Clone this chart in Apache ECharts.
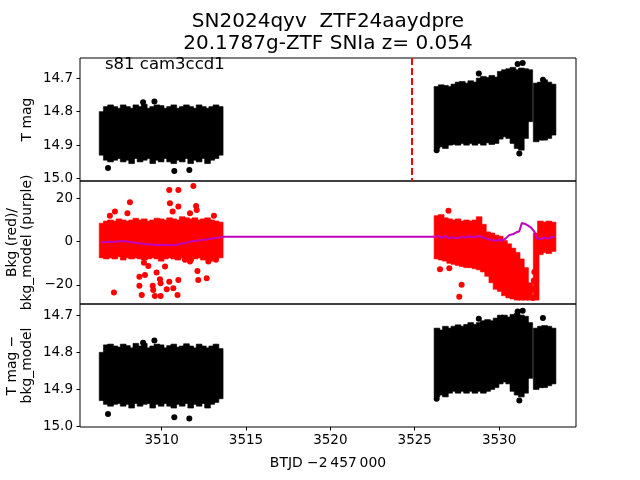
<!DOCTYPE html>
<html>
<head>
<meta charset="utf-8">
<script src="https://cdn.jsdelivr.net/npm/echarts@6/dist/echarts.min.js"></script>
<style>html,body{margin:0;padding:0;background:#fff}#c{width:640px;height:480px}</style>
</head>
<body>
<div id="c"></div>
<script>
// ---- time bins (BTJD - 2457000), centres of 0.25 d bins ----
const tBins = [
 3506.47,3506.72,3506.97,3507.22,3507.47,3507.72,3507.97,3508.22,3508.47,3508.72,
 3508.97,3509.22,3509.47,3509.72,3509.97,3510.22,3510.47,3510.72,3510.97,3511.22,
 3511.47,3511.72,3511.97,3512.22,3512.47,3512.72,3512.97,3513.22,3513.47,
 3526.32,3526.57,3526.82,3527.07,3527.32,3527.57,3527.82,3528.07,3528.32,3528.57,
 3528.82,3529.07,3529.32,3529.57,3529.82,3530.07,3530.32,3530.57,3530.82,3531.07,
 3531.32,3531.57,3531.82,
 3532.20,3532.45,3532.70,3532.95,3533.20
];
// ---- panel 1: T mag envelope (bright edge / faint edge) ----
const mag1Top = [
 14.800,14.785,14.780,14.785,14.790,14.780,14.785,14.790,14.780,14.785,
 14.778,14.790,14.785,14.780,14.782,14.790,14.785,14.780,14.790,14.785,
 14.780,14.785,14.790,14.780,14.785,14.790,14.785,14.780,14.785,
 14.725,14.720,14.722,14.725,14.718,14.712,14.710,14.715,14.708,14.712,
 14.700,14.695,14.698,14.692,14.697,14.680,14.675,14.672,14.668,14.675,
 14.670,14.672,14.675,
 14.715,14.712,14.705,14.712,14.718
];
const mag1Bot = [
 14.930,14.945,14.950,14.945,14.940,14.950,14.945,14.955,14.940,14.950,
 14.945,14.940,14.955,14.945,14.950,14.940,14.950,14.955,14.945,14.950,
 14.940,14.955,14.945,14.950,14.940,14.955,14.945,14.940,14.930,
 14.910,14.905,14.910,14.900,14.898,14.900,14.895,14.900,14.895,14.900,
 14.895,14.900,14.893,14.898,14.895,14.882,14.875,14.880,14.895,14.910,
 14.915,14.880,14.830,
 14.890,14.885,14.885,14.880,14.870
];
const mag1OutT = [3506.82,3510.75,3511.64,3508.90,3509.57,3526.30,3528.80,3531.10,3531.40,3532.60,3531.20];
const mag1OutV = [14.968,14.977,14.974,14.772,14.770,14.915,14.686,14.658,14.655,14.705,14.925];

// ---- panel 2: background (red) envelope and outliers, model (purple) ----
const bkgTop = [
 8.5,9.5,10,9.5,10.5,10,9.5,10,10.8,10,
 10.5,9.5,10,10.8,10.5,10,11,10.5,10,11.5,
 11,10.5,11,10,10.5,11,10,9.5,9,
 12,12.5,11,10.5,10,10.5,9.5,10,9.5,10,
 11.5,8,4.5,4,3,2.5,0.5,-1,-3,-5,
 -8,-12,-19,
 4,9.5,9,9.5,9
];
const bkgBot = [
 -7.5,-8,-7.5,-8,-7,-8.5,-7.5,-8,-7.5,-8,
 -8.5,-8,-7.5,-8,-9,-8,-7.5,-8,-8.5,-7.5,
 -8,-9,-8,-7.5,-8.5,-8,-9,-8,-7.5,
 -8,-8.5,-9,-10,-10.5,-11,-11.5,-12,-12,-12.5,
 -13,-14,-16,-19,-22,-23,-25,-26,-26.5,-27,
 -27,-27,-27,
 -27,-6,-5,-5.5,-4.5
];
const bkgOutT = [
 3510.45,3510.99,3511.88,3508.12,3510.49,3510.99,3512.04,3512.08,3507.23,3507.97,
 3510.65,3511.68,3513.10,3506.93,3508.95,3509.21,3510.20,3511.38,3511.68,3512.77,
 3513.22,3512.12,3509.70,3508.68,3509.01,3509.90,3510.45,3510.99,3512.17,3512.67,
 3508.68,3509.47,3509.94,3510.69,3510.30,3508.82,3509.60,3509.94,3510.94,3507.17,
 3509.50,
 3526.50,3527.05,3527.78,3527.64,3527.00,3532.00,3532.03,3532.06,3532.09
];
const bkgOutV = [
 23.9,23.9,25.7,18.2,17.7,16.2,16.5,14.6,13.9,13.1,
 13.9,13.1,11.9,11.9,-9.7,-11.2,-11.5,-8.4,-9.2,-9.2,
 -8.4,-13.6,-14.3,-16.2,-15.4,-17.4,-18.5,-17.7,-17.7,-16.9,
 -20.4,-20.4,-19.2,-21.5,-22.0,-24.6,-25.1,-25.1,-24.6,-23.5,
 -22.3,
 -12.8,-12.3,-19.9,-25.5,14.3,-26,-22,-18,-14
];
const modelT = [
 3506.40,3506.65,3506.90,3507.15,3507.40,3507.65,3507.90,3508.15,3508.40,3508.65,
 3508.90,3509.15,3509.40,3509.65,3509.90,3510.15,3510.40,3510.65,3510.90,3511.15,
 3511.40,3511.65,3511.90,3512.15,3512.40,3512.65,3512.90,3513.15,3513.40,3513.55,
 3526.20,3526.40,3526.60,3526.80,3527.00,3527.20,3527.40,3527.60,3527.80,3528.00,
 3528.20,3528.40,3528.60,3528.80,3529.00,3529.20,3529.40,3529.60,3529.80,3530.00,
 3530.20,3530.40,3530.60,3530.80,3531.00,3531.20,3531.35,3531.50,3531.70,3531.90,
 3532.10,3532.25,3532.50,3532.70,3532.90,3533.10,3533.30
];
const modelV = [
 -0.3,-0.2,0,-0.2,0.1,0.3,0.1,-0.2,-0.5,-0.7,
 -1.0,-1.2,-1.3,-1.5,-1.4,-1.6,-1.5,-1.7,-1.4,-1.0,
 -0.6,-0.1,0.3,0.5,0.8,1.0,1.3,1.6,1.9,2.2,
 2.2,2.6,1.8,2.5,1.6,2.0,1.5,1.8,2.2,2.0,
 2.4,2.1,2.3,2.6,2.0,1.5,1.0,0.8,0.3,0.9,
 0.5,1.5,3.0,3.4,4.2,4.8,8.6,8.3,7.5,6.5,
 4.5,1.5,1.2,1.8,1.4,2.0,2.4
];

// ---- panel 3: T mag - bkg_model envelope ----
const mag3Top = [
 14.800,14.780,14.778,14.783,14.786,14.778,14.782,14.788,14.776,14.783,
 14.776,14.788,14.783,14.778,14.780,14.788,14.782,14.778,14.786,14.783,
 14.777,14.783,14.788,14.778,14.783,14.788,14.783,14.778,14.790,
 14.735,14.740,14.730,14.735,14.730,14.726,14.730,14.725,14.720,14.725,
 14.720,14.715,14.712,14.715,14.708,14.700,14.700,14.705,14.698,14.695,
 14.700,14.703,14.720,
 14.735,14.730,14.728,14.730,14.735
];
const mag3Bot = [
 14.930,14.940,14.945,14.940,14.938,14.945,14.940,14.950,14.938,14.945,
 14.940,14.938,14.950,14.940,14.945,14.938,14.945,14.950,14.940,14.945,
 14.938,14.950,14.940,14.945,14.938,14.950,14.940,14.935,14.925,
 14.920,14.915,14.920,14.910,14.905,14.910,14.905,14.910,14.905,14.910,
 14.905,14.910,14.905,14.900,14.895,14.885,14.880,14.885,14.905,14.915,
 14.920,14.910,14.870,
 14.900,14.895,14.895,14.890,14.885
];
const mag3OutT = [3506.82,3510.75,3511.64,3508.90,3509.57,3526.30,3528.80,3531.10,3531.40,3532.60,3531.20];
const mag3OutV = [14.966,14.975,14.978,14.774,14.768,14.925,14.710,14.690,14.688,14.708,14.930];

const xTicks = [3510,3515,3520,3525,3530];
const magTicks = [14.7,14.8,14.9,15.0];
const bkgTicks = [-20,0,20];
const tMark = 3524.82;

// ---------------------------------------------------------------
const FONT = 'DejaVu Sans';
const HALF = 0.17;
const L = 80, W = 496, H = 123, TOPS = [58,181,304];

function env(t, top, bot, idx, color) {
  return {
    type: 'custom', xAxisIndex: idx, yAxisIndex: idx, clip: true,
    data: t.map((v,i)=>[v, top[i], bot[i]]),
    encode: {x: 0, y: [1,2]},
    renderItem: function(params, api) {
      const tc = api.value(0);
      const a = api.coord([tc-HALF, api.value(1)]);
      const b = api.coord([tc+HALF, api.value(2)]);
      return {type:'rect', shape:{x:Math.min(a[0],b[0]), y:Math.min(a[1],b[1]),
        width:Math.abs(b[0]-a[0]), height:Math.abs(b[1]-a[1])},
        style:{fill:color, stroke:color, lineWidth:0.6}};
    }
  };
}
function pts(t, v, idx, color, size) {
  return {type:'scatter', xAxisIndex: idx, yAxisIndex: idx, symbolSize: size,
    itemStyle:{color:color, opacity:1}, data: t.map((x,i)=>[x, v[i]]), silent:true};
}
function yAx(idx, min, max, inverse, ticks, fmt) {
  return {type:'value', gridIndex: idx, min: min, max: max, inverse: inverse,
    axisLine:{show:false}, splitLine:{show:false},
    axisTick:{show:true, length:3.5, lineStyle:{color:'#000', width:1}, customValues: ticks},
    axisLabel:{show:true, margin:7, color:'#000', fontFamily:FONT, fontSize:13.5,
      customValues: ticks, formatter: fmt}};
}
function xAx(idx, labels) {
  return {type:'value', gridIndex: idx, min: 3505.16, max: 3534.56,
    axisLine:{show:false}, splitLine:{show:false},
    axisTick:{show:labels, length:3.5, lineStyle:{color:'#000', width:1}, customValues: xTicks},
    axisLabel:{show:labels, margin:6, color:'#000', fontFamily:FONT, fontSize:13.5,
      customValues: xTicks, formatter: v=>String(v)}};
}
const magFmt = v => v.toFixed(1);
const bkgFmt = v => String(v).replace('-', '\u2212');

const chart = echarts.init(document.getElementById('c'), null, {renderer:'canvas'});
const p1 = env(tBins, mag1Top, mag1Bot, 0, '#000');
p1.markLine = {symbol:'none', silent:true, label:{show:false},
  lineStyle:{color:'#ff0000', width:2, type:[7,3]}, data:[{xAxis: tMark}]};
chart.setOption({
  animation: false,
  backgroundColor: '#fff',
  grid: TOPS.map(t=>({left:L, top:t, width:W, height:H, show:true,
    borderColor:'#000', borderWidth:1, backgroundColor:'transparent'})),
  xAxis: [xAx(0,false), xAx(1,false), xAx(2,true)],
  yAxis: [yAx(0,14.64,15.007,true,magTicks,magFmt),
          yAx(1,-28.8,28,false,bkgTicks,bkgFmt),
          yAx(2,14.67,15.001,true,magTicks,magFmt)],
  series: [
    p1,
    pts(mag1OutT, mag1OutV, 0, '#000', 6),
    env(tBins, bkgTop, bkgBot, 1, '#ff0000'),
    pts(bkgOutT, bkgOutV, 1, '#ff0000', 6),
    {type:'line', xAxisIndex:1, yAxisIndex:1, showSymbol:false, silent:true,
      lineStyle:{color:'#bf00bf', width:2}, itemStyle:{color:'#bf00bf'},
      data: modelT.map((x,i)=>[x, modelV[i]]), z:5},
    env(tBins, mag3Top, mag3Bot, 2, '#000'),
    pts(mag3OutT, mag3OutV, 2, '#000', 6)
  ],
  graphic: [
    {type:'text', x:328, y:11, style:{text:'SN2024qyv  ZTF24aaydpre\n20.1787g-ZTF SNIa z= 0.054',
      fontFamily:FONT, fontSize:20, lineHeight:22, align:'center', verticalAlign:'top', fill:'#000'}},
    {type:'text', x:105, y:65, z:10, style:{text:'s81 cam3ccd1', fontFamily:FONT, fontSize:16.5,
      align:'left', verticalAlign:'middle', fill:'#000'}},
    {type:'text', x:27, y:119.5, rotation:Math.PI/2, style:{text:'T mag', fontFamily:FONT, fontSize:13.9,
      align:'center', verticalAlign:'middle', fill:'#000'}},
    {type:'text', x:20, y:242.5, rotation:Math.PI/2, style:{text:'Bkg (red)/\nbkg_model (purple)', fontFamily:FONT, fontSize:13.9,
      lineHeight:15.5, align:'center', verticalAlign:'middle', fill:'#000'}},
    {type:'text', x:20, y:365.5, rotation:Math.PI/2, style:{text:'T mag \u2212\nbkg_model', fontFamily:FONT, fontSize:13.9,
      lineHeight:15.5, align:'center', verticalAlign:'middle', fill:'#000'}},
    {type:'text', x:328, y:463, style:{text:'BTJD \u22122\u2009457\u2009000', fontFamily:FONT, fontSize:13.9,
      align:'center', verticalAlign:'middle', fill:'#000'}}
  ]
});
</script>
</body>
</html>
